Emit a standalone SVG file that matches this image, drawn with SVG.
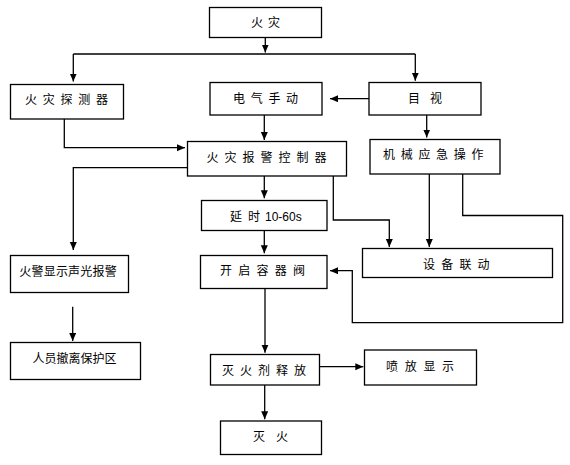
<svg xmlns="http://www.w3.org/2000/svg" width="570" height="465" viewBox="0 0 570 465">
<style>
.box{fill:#fff;stroke:#000;stroke-width:1.3}
.c{fill:none;stroke:#000;stroke-width:1.3}
.a{marker-end:url(#ah)}
text{font-family:"Noto Sans CJK SC","Noto Sans CJK JP",sans-serif;font-size:12px;fill:#000}
.lat{font-family:"Liberation Sans",Arial,sans-serif}
</style>
<defs>
<marker id="ah" markerUnits="userSpaceOnUse" markerWidth="9" markerHeight="8" refX="8" refY="3.5" orient="auto">
<path d="M0,0 L8,3.5 L0,7 z" fill="#000"/>
</marker>
</defs>
<rect width="570" height="465" fill="#fff"/>
<g id="connectors">
<path class="c a" d="M265.3 37.3 V52.5"/>
<path class="c" d="M73.3 54 H415.3"/>
<path class="c a" d="M73.3 54 V81.5"/>
<path class="c a" d="M415.3 54 V80.7"/>
<path class="c a" d="M369 98.7 H330"/>
<path class="c a" d="M264.3 115 V140"/>
<path class="c a" d="M426.7 115 V137.5"/>
<path class="c a" d="M64.3 119 V147.7 H185"/>
<path class="c a" d="M187.3 167.7 H73.3 V250"/>
<path class="c a" d="M264.3 176 V198.3"/>
<path class="c a" d="M264.3 230.7 V253.3"/>
<path class="c a" d="M333.3 176 V220 H389.3 V247"/>
<path class="c a" d="M429.3 174 V247"/>
<path class="c a" d="M462.7 174 V215.5 H562.7 V322.7 H352.3 V270.7 H330"/>
<path class="c a" d="M72.7 306.7 V341"/>
<path class="c a" d="M265 288.3 V352.7"/>
<path class="c a" d="M319.3 366.7 H363.3"/>
<path class="c a" d="M264.7 385 V419.3"/>
</g>
<g id="n_fire"><rect class="box" x="209.5" y="7.5" width="112" height="30"/><text x="251" y="27" letter-spacing="5">火灾</text></g>
<g id="n_detector"><rect class="box" x="10.5" y="84.5" width="113" height="34.5"/><text x="25" y="103.6" letter-spacing="5.75">火灾探测器</text></g>
<g id="n_manual"><rect class="box" x="210" y="82.5" width="112" height="32.5"/><text x="233" y="103.3" letter-spacing="5.7">电气手动</text></g>
<g id="n_visual"><rect class="box" x="369" y="82.5" width="112" height="32.5"/><text x="408" y="102.6" letter-spacing="10">目视</text></g>
<g id="n_controller"><rect class="box" x="187.5" y="141.5" width="159" height="34.5"/><text x="206.5" y="162" letter-spacing="6">火灾报警控制器</text></g>
<g id="n_mech"><rect class="box" x="370" y="139.5" width="130" height="34.5"/><text x="383" y="158.6" letter-spacing="5.7">机械应急操作</text></g>
<g id="n_delay"><rect class="box" x="201.5" y="200.5" width="125.5" height="30"/><text x="230" y="221.3">延<tspan x="248">时 </tspan><tspan class="lat" x="265">10-60s</tspan></text></g>
<g id="n_alarm"><rect class="box" x="10.5" y="255.5" width="118" height="37"/><text x="19.3" y="275.6" letter-spacing="0.2">火警显示声光报警</text></g>
<g id="n_valve"><rect class="box" x="200.5" y="255.5" width="126.5" height="33"/><text x="220" y="274.6" letter-spacing="6.25">开启容器阀</text></g>
<g id="n_linkage"><rect class="box" x="362.5" y="248.5" width="190" height="29"/><text x="423" y="269" letter-spacing="6.2">设备联动</text></g>
<g id="n_evac"><rect class="box" x="10.5" y="342.5" width="130" height="37"/><text x="32.5" y="363">人员撤离保护区</text></g>
<g id="n_release"><rect class="box" x="210.5" y="354.5" width="109" height="30.5"/><text x="222" y="374.6" letter-spacing="6">灭火剂释放</text></g>
<g id="n_display"><rect class="box" x="364.5" y="350" width="112" height="35"/><text x="386" y="370.6" letter-spacing="6.7">喷放显示</text></g>
<g id="n_out"><rect class="box" x="220.5" y="421" width="101" height="33.5"/><text x="253" y="441.3" letter-spacing="11">灭火</text></g>
</svg>
